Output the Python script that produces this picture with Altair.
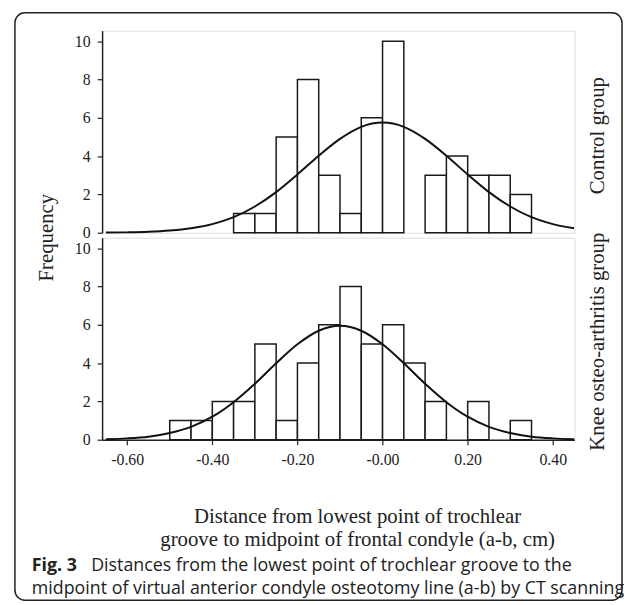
import altair as alt
import pandas as pd

# ---------------- data ----------------
bin_lefts = [-0.50, -0.45, -0.40, -0.35, -0.30, -0.25, -0.20, -0.15, -0.10,
             -0.05, 0.00, 0.05, 0.10, 0.15, 0.20, 0.25, 0.30]
bin_width = 0.05
control_counts = [0, 0, 0, 1, 1, 5, 8, 3, 1, 6, 10, 0, 3, 4, 3, 3, 2]
knee_counts = [1, 1, 2, 2, 5, 1, 4, 6, 8, 5, 6, 4, 2, 0, 2, 0, 1]

curve_x = [-0.65, -0.60, -0.55, -0.50, -0.45, -0.40, -0.35, -0.30, -0.25, -0.20,
           -0.15, -0.10, -0.05, 0.00, 0.05, 0.10, 0.15, 0.20, 0.25, 0.30,
           0.35, 0.40, 0.45]
control_curve = [0.007, 0.018, 0.046, 0.11, 0.23, 0.45, 0.81, 1.37, 2.12, 3.04,
                 4.02, 4.90, 5.53, 5.75, 5.53, 4.90, 4.02, 3.04, 2.12, 1.37,
                 0.81, 0.45, 0.23]
knee_curve = [0.027, 0.07, 0.16, 0.35, 0.67, 1.20, 1.96, 2.92, 3.99, 4.98,
              5.69, 5.95, 5.69, 4.98, 3.99, 2.92, 1.96, 1.20, 0.67, 0.35,
              0.16, 0.07, 0.027]

x_ticks = [-0.6, -0.4, -0.2, 0.0, 0.2, 0.4]
x_tick_labels = ["-0.60", "-0.40", "-0.20", "-0.00", "0.20", "0.40"]
y_ticks = [0, 2, 4, 6, 8, 10]

group_names = ["Control group", "Knee osteo-arthritis group"]
y_title = "Frequency"
x_title_lines = ["Distance from lowest point of trochlear",
                 "groove to midpoint of frontal condyle (a-b, cm)"]
caption_bold = "Fig. 3"
caption_line1 = "Distances from the lowest point of trochlear groove to the"
caption_line2 = "midpoint of virtual anterior condyle osteotomy line (a-b) by CT scanning"

# ---------------- styling ----------------
SERIF = "Liberation Serif"
SANS = "Open Sans"
W, H = 477, 204
X_DOMAIN = [-0.659, 0.451]
Y_DOMAIN = [0, 10.55]

label_expr = "'" + x_tick_labels[-1] + "'"
for v, lab in reversed(list(zip(x_ticks, x_tick_labels))[:-1]):
    label_expr = f"abs(datum.value - ({v})) < 0.001 ? '{lab}' : " + label_expr

x_scale = alt.Scale(domain=X_DOMAIN, nice=False, zero=False)
y_scale = alt.Scale(domain=Y_DOMAIN, nice=False, zero=False)

y_axis = alt.Axis(values=y_ticks, title=None, grid=False, tickSize=5, labelPadding=7,
                  labelFont=SERIF, labelFontSize=16, labelColor="#222",
                  domainColor="#222", domainWidth=1.5, tickColor="#222", tickWidth=1.2)
x_axis = alt.Axis(values=x_ticks, labelExpr=label_expr, title=None, grid=False,
                  tickSize=5, labelPadding=7, labelFont=SERIF, labelFontSize=16,
                  labelColor="#222", domainColor="#222", domainWidth=1.5,
                  tickColor="#222", tickWidth=1.2)


def text_layer(txt, x, y, size=21, font=SERIF, angle=0, align="center",
               weight="normal", baseline="middle"):
    return alt.Chart(pd.DataFrame({"t": [txt]})).mark_text(
        font=font, fontSize=size, angle=angle, align=align, baseline=baseline,
        fontWeight=weight, color="#222"
    ).encode(text="t:N", x=alt.value(x), y=alt.value(y))


def panel(counts, curve, show_x):
    bars_df = pd.DataFrame({"left": bin_lefts, "freq": counts})
    bars_df["right"] = bars_df["left"] + bin_width
    curve_df = pd.DataFrame({"x": curve_x, "y": curve})
    bars = alt.Chart(bars_df).transform_filter("datum.freq > 0").mark_rect(
        fill="white", stroke="#1a1a1a", strokeWidth=1.5
    ).encode(
        x=alt.X("left:Q", scale=x_scale, axis=x_axis if show_x else None),
        x2="right:Q",
        y=alt.Y("freq:Q", scale=y_scale, axis=y_axis),
        y2=alt.datum(0),
    )
    line = alt.Chart(curve_df).mark_line(
        color="#111", strokeWidth=2, interpolate="monotone"
    ).encode(x=alt.X("x:Q", scale=x_scale), y=alt.Y("y:Q", scale=y_scale))
    return bars, line


tb, tl = panel(control_counts, control_curve, False)
top = alt.layer(
    tb, tl,
    text_layer(y_title, -56, 209, angle=270),
    text_layer(group_names[0], 501, 106, angle=270),
).properties(width=W, height=H)

bb, bl = panel(knee_counts, knee_curve, True)
frame = alt.Chart(pd.DataFrame({"a": [0]})).mark_rect(
    filled=False, stroke="#222", strokeWidth=1.5, cornerRadius=10
).encode(x=alt.value(-88), x2=alt.value(525), y=alt.value(-227), y2=alt.value(366))

bottom = alt.layer(
    bb, bl,
    text_layer(group_names[1], 501, 105, angle=270),
    text_layer(x_title_lines[0], 258, 282),
    text_layer(x_title_lines[1], 258, 305),
    text_layer(caption_bold, -71, 332, size=18, font=SANS, align="left", weight="bold"),
    text_layer(caption_line1, -11, 332, size=18, font=SANS, align="left"),
    text_layer(caption_line2, -71, 355, size=18, font=SANS, align="left"),
    frame,
).properties(width=W, height=H)

chart = alt.vconcat(top, bottom, spacing=5, bounds="flush").properties(
    padding={"left": 5, "top": 0, "right": 0, "bottom": 0}
).configure_view(stroke="#444", strokeWidth=1.3).configure(background="white")

chart.save("out.html", embed_options={"renderer": "svg", "actions": False})
